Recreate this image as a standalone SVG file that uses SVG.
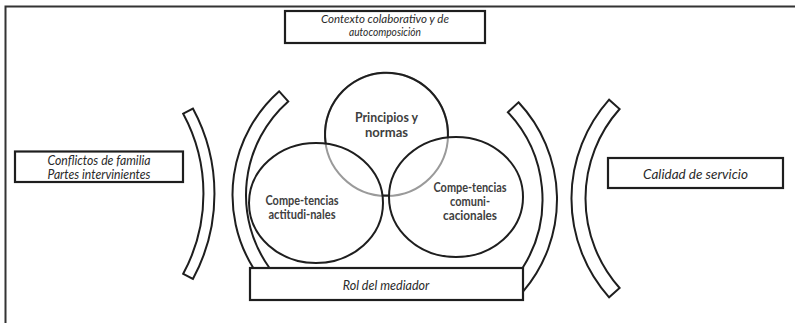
<svg xmlns="http://www.w3.org/2000/svg" width="795" height="323" viewBox="0 0 795 323">
<style>
.box{fill:#fff;stroke:#1e1e1e;stroke-width:2.2}
.band{fill:#fff;stroke:#1e1e1e;stroke-width:2}
.circ{fill:none;stroke:#1e1e1e;stroke-width:2}
.it{font-family:Lato,"Liberation Sans",sans-serif;font-style:italic;fill:#2a2a2a;text-anchor:middle}
.ct{font-family:Lato,"Liberation Sans",sans-serif;fill:#404040;text-anchor:middle;font-size:12.5px;font-weight:bold}
</style>
<rect width="795" height="323" fill="#fff"/>
<path d="M5.5,323 V6.5 H795" fill="none" stroke="#333" stroke-width="2"/>

<g id="arc-far-left">
<path class="band" d="M183.2,113.7 A168.3,168.3 0 0 1 183.2,273.8 L192.9,279 A179.3,179.3 0 0 0 192.9,108.5 Z"/>
</g>
<g id="arc-left">
<path class="band" d="M279.2,91.3 A138.5,138.5 0 0 0 253.3,268 L269.5,268 A125,125 0 0 1 288.2,101.4 Z"/>
</g>
<g id="arc-right">
<path class="band" d="M507.9,112.2 A127.5,127.5 0 0 1 523,267.3 L523,291.7 A142,142 0 0 0 518.5,102.3 Z"/>
</g>
<g id="arc-far-right">
<path class="band" d="M609.1,99.7 A148.5,148.5 0 0 0 609.1,297.3 L619.6,288 A134.5,134.5 0 0 1 619.6,109 Z"/>
</g>

<g id="principios">
<circle cx="386.5" cy="134.5" r="61.5" fill="none" stroke="#9a9a9a" stroke-width="2"/>
<path class="circ" d="M325.7,143.6 A61.5,61.5 0 1 1 447.9,137.5"/>
<text class="ct" x="386.5" y="121.5" textLength="63" lengthAdjust="spacingAndGlyphs">Principios y</text>
<text class="ct" x="386.5" y="136.5" textLength="43" lengthAdjust="spacingAndGlyphs">normas</text>
</g>
<g id="actitudinales">
<ellipse class="circ" cx="316" cy="203" rx="67" ry="60"/>
<text class="ct" x="302" y="204.5" textLength="73" lengthAdjust="spacingAndGlyphs">Compe-tencias</text>
<text class="ct" x="302" y="218.5" textLength="67" lengthAdjust="spacingAndGlyphs">actitudi-nales</text>
</g>
<g id="comunicacionales">
<ellipse class="circ" cx="456" cy="197" rx="67" ry="60"/>
<text class="ct" x="470" y="191.5" textLength="73" lengthAdjust="spacingAndGlyphs">Compe-tencias</text>
<text class="ct" x="470" y="205.5" textLength="40" lengthAdjust="spacingAndGlyphs">comuni-</text>
<text class="ct" x="470" y="219.5" textLength="54" lengthAdjust="spacingAndGlyphs">cacionales</text>
</g>

<g id="connectors">
<line x1="382.4" y1="195.5" x2="389.2" y2="195.5" stroke="#1e1e1e" stroke-width="2"/>
</g>

<g id="contexto">
<rect class="box" x="285" y="11" width="200" height="32" stroke-width="2.6"/>
<text class="it" x="385" y="22.5" font-size="12" textLength="128" lengthAdjust="spacingAndGlyphs">Contexto colaborativo y de</text>
<text class="it" x="385" y="36" font-size="12" textLength="72" lengthAdjust="spacingAndGlyphs">autocomposición</text>
</g>
<g id="conflictos">
<rect class="box" x="15" y="151.5" width="168" height="30.5" stroke="#6a6a6a" stroke-width="2.6"/>
<text class="it" x="99" y="164.5" font-size="12.5" textLength="103" lengthAdjust="spacingAndGlyphs">Conflictos de  familia</text>
<text class="it" x="99" y="178.5" font-size="12.5" textLength="103" lengthAdjust="spacingAndGlyphs">Partes intervinientes</text>
</g>
<g id="calidad">
<rect class="box" x="608" y="158" width="175" height="30"/>
<text class="it" x="695.5" y="178.5" font-size="13.5">Calidad de servicio</text>
</g>
<g id="rol">
<rect class="box" x="250" y="268" width="273" height="32"/>
<text class="it" x="386" y="290" font-size="12.5">Rol del mediador</text>
</g>
</svg>
